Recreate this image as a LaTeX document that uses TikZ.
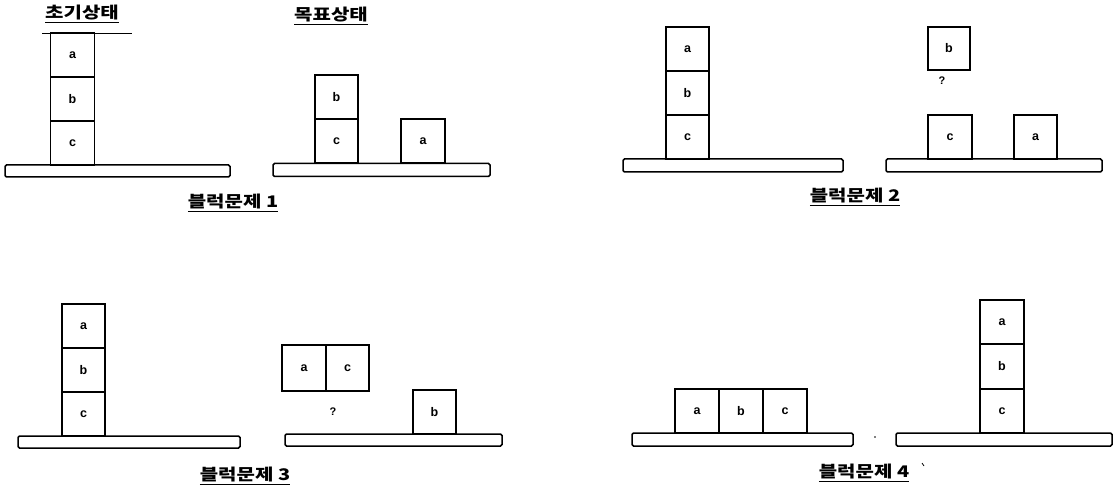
\documentclass[tikz,border=0pt]{standalone}
\usepackage{fontspec}
\setsansfont{Liberation Sans}
\newfontfamily\krfont{Noto Sans CJK KR}
\tikzset{
  blk/.style={draw, line width=1.5pt, minimum width=44pt, minimum height=44pt, inner sep=0pt,
              font=\sffamily\bfseries\fontsize{12.5}{12.5}\selectfont},
  tbl/.style={draw, line width=1.5pt, rounded corners=1.5pt, inner sep=0pt},
  ttl/.style={inner sep=0pt, font=\krfont\bfseries\fontsize{16}{16}\selectfont},
  qm/.style={inner sep=0pt, font=\sffamily\bfseries\fontsize{11}{11}\selectfont}
}
\newcommand{\kul}[1]{\scalebox{1.25}[1]{\underline{#1}}}
\begin{document}
\begin{tikzpicture}[x=1pt,y=-1pt]
\useasboundingbox (0,0) rectangle (1115,494);
% ---------- Problem 1 ----------
\node[ttl] (t1) at (82,14) {\kul{초기상태}};
\node[ttl] (t2) at (331,16) {\kul{목표상태}};
\coordinate (s1) at (42,33); \coordinate (s2) at (132,33);
\draw[line width=0.8pt] (s1) -- (s2);
\node[tbl, minimum width=225pt, minimum height=12pt] (T1a) at (117.5,171) {};
\node[blk] (p1a) at (72.5,55) {a};
\node[blk] (p1b) at (72.5,99) {b};
\node[blk] (p1c) at (72.5,143) {c};
\node[tbl, minimum width=217pt, minimum height=13pt] (T1b) at (381.5,170) {};
\node[blk, minimum width=43pt] (g1b) at (336.5,97) {b};
\node[blk, minimum width=43pt] (g1c) at (336.5,141) {c};
\node[blk] (g1a) at (423,141) {a};
\node[ttl] (c1) at (233,203) {\kul{블럭문제 1}};
% ---------- Problem 2 ----------
\node[tbl, minimum width=220pt, minimum height=13pt] (T2a) at (733,165.5) {};
\node[blk, minimum width=43pt] (p2a) at (687.5,49) {a};
\node[blk, minimum width=43pt] (p2b) at (687.5,93) {b};
\node[blk, minimum width=43pt] (p2c) at (687.5,137) {c};
\node[tbl, minimum width=216pt, minimum height=13pt] (T2b) at (994,165.5) {};
\node[blk, minimum width=42pt, minimum height=43pt] (g2b) at (949,48.5) {b};
\node[qm] (q2) at (942,81) {?};
\node[blk] (g2c) at (950,137) {c};
\node[blk, minimum width=43pt] (g2a) at (1035.5,137) {a};
\node[ttl] (c2) at (855,197) {\kul{블럭문제 2}};
% ---------- Problem 3 ----------
\node[tbl, minimum width=222pt, minimum height=12pt] (T3a) at (129,442) {};
\node[blk, minimum width=43pt] (p3a) at (83.5,326) {a};
\node[blk, minimum width=43pt] (p3b) at (83.5,370) {b};
\node[blk, minimum width=43pt] (p3c) at (83.5,414) {c};
\node[tbl, minimum width=217pt, minimum height=12pt] (T3b) at (393.5,440) {};
\node[blk, minimum height=46pt] (g3a) at (304,368) {a};
\node[blk, minimum width=43pt, minimum height=46pt] (g3c) at (347.5,368) {c};
\node[qm] (q3) at (333,412) {?};
\node[blk, minimum width=43pt] (g3b) at (434.5,412) {b};
\node[ttl] (c3) at (245,476) {\kul{블럭문제 3}};
% ---------- Problem 4 ----------
\node[tbl, minimum width=221pt, minimum height=13pt] (T4a) at (742.5,439.5) {};
\node[blk] (p4a) at (697,411) {a};
\node[blk] (p4b) at (741,411) {b};
\node[blk] (p4c) at (785,411) {c};
\node[tbl, minimum width=216pt, minimum height=13pt] (T4b) at (1004,439.5) {};
\node[blk] (g4a) at (1002,322) {a};
\node[blk] (g4b) at (1002,366.5) {b};
\node[blk] (g4c) at (1002,411) {c};
\node[ttl] (c4) at (864,473) {\kul{블럭문제 4}};
\coordinate (d1) at (875,437);
\fill (d1) circle (0.9pt);
\coordinate (k1) at (922,463); \coordinate (k2) at (924,466);
\draw[line width=0.8pt] (k1) -- (k2);
\end{tikzpicture}
\end{document}
